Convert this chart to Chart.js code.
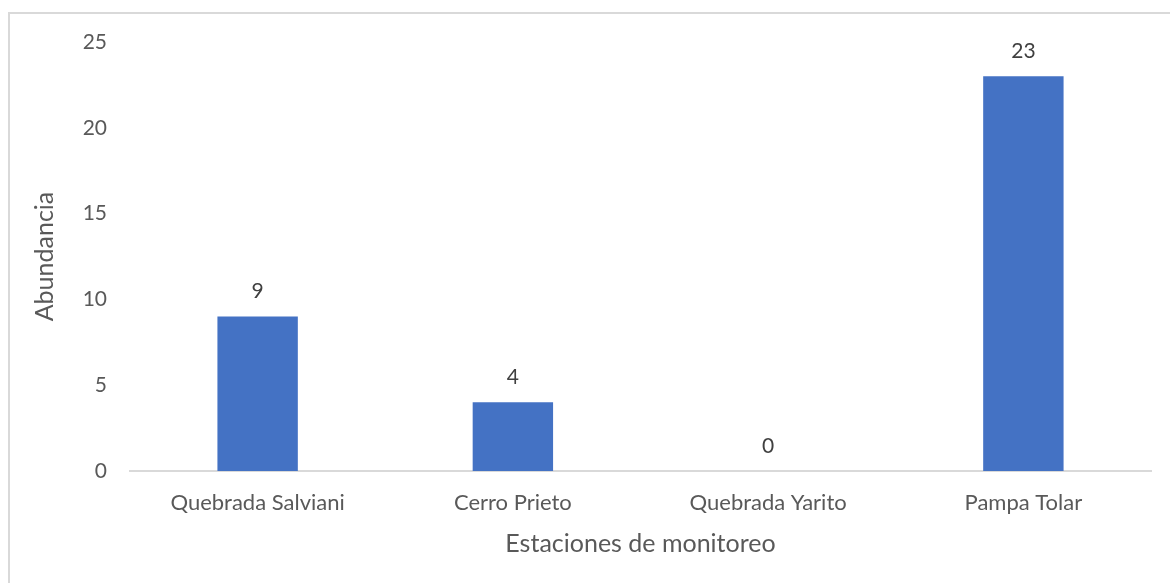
<!DOCTYPE html>
<html lang="es">
<head>
    <meta charset="UTF-8">
    <title>Abundancia por estación</title>
    <script src="https://cdn.jsdelivr.net/npm/chart.js"></script>
    <style>
        body {
            margin: 0;
            background: #ffffff;
        }
        .frame {
            position: absolute;
            left: 8px;
            top: 12px;
            width: 1200px;
            height: 620px;
            border: 2px solid #d9d9d9;
        }
        .wrap {
            position: absolute;
            left: 0;
            top: 0;
            width: 1170px;
            height: 583px;
        }
    </style>
</head>
<body>
    <div class="frame"></div>
    <div class="wrap">
        <canvas id="chart" width="1170" height="583"></canvas>
    </div>

    <script>
        const stations = ['Quebrada Salviani', 'Cerro Prieto', 'Quebrada Yarito', 'Pampa Tolar'];
        const abundance = [9, 4, 0, 23];
        const yTicks = [0, 5, 10, 15, 20, 25];

        const FONT = 'Lato, "Noto Sans", sans-serif';

        // numbers above each bar
        const barLabels = {
            id: 'barLabels',
            afterDatasetsDraw(chart) {
                const ctx = chart.ctx;
                const meta = chart.getDatasetMeta(0);
                ctx.save();
                ctx.font = '21px ' + FONT;
                ctx.fillStyle = '#404040';
                ctx.textAlign = 'center';
                ctx.textBaseline = 'middle';
                meta.data.forEach((bar, i) => {
                    ctx.fillText(abundance[i], bar.x, bar.y - 25);
                });
                ctx.restore();
            }
        };

        new Chart(document.getElementById('chart'), {
            type: 'bar',
            data: {
                labels: stations,
                datasets: [{
                    label: 'Abundancia',
                    data: abundance,
                    backgroundColor: '#4472C4',
                    barPercentage: 0.63,
                    categoryPercentage: 0.5
                }]
            },
            options: {
                responsive: false,
                animation: false,
                layout: { padding: { left: 26, right: 19, top: 42, bottom: 20 } },
                plugins: {
                    legend: { display: false },
                    tooltip: { enabled: false }
                },
                scales: {
                    x: {
                        grid: { display: false, drawTicks: false },
                        border: { color: '#d9d9d9', width: 2 },
                        ticks: { color: '#595959', font: { family: FONT, size: 22 }, padding: 19, maxRotation: 0 },
                        title: {
                            display: true,
                            text: 'Estaciones de monitoreo',
                            color: '#595959',
                            font: { family: FONT, size: 25 },
                            padding: { top: 10 }
                        },
                        afterFit(scale) { scale.height = 92; }
                    },
                    y: {
                        min: 0,
                        max: 25,
                        afterBuildTicks(scale) { scale.ticks = yTicks.map(v => ({ value: v })); },
                        grid: { display: false, drawTicks: false },
                        border: { display: false },
                        ticks: { color: '#595959', font: { family: FONT, size: 21 }, padding: 23 },
                        title: {
                            display: true,
                            text: 'Abundancia',
                            color: '#595959',
                            font: { family: FONT, size: 25 },
                            padding: { bottom: 0 }
                        },
                        afterFit(scale) { scale.width = 104; }
                    }
                }
            },
            plugins: [barLabels]
        });
    </script>
</body>
</html>
